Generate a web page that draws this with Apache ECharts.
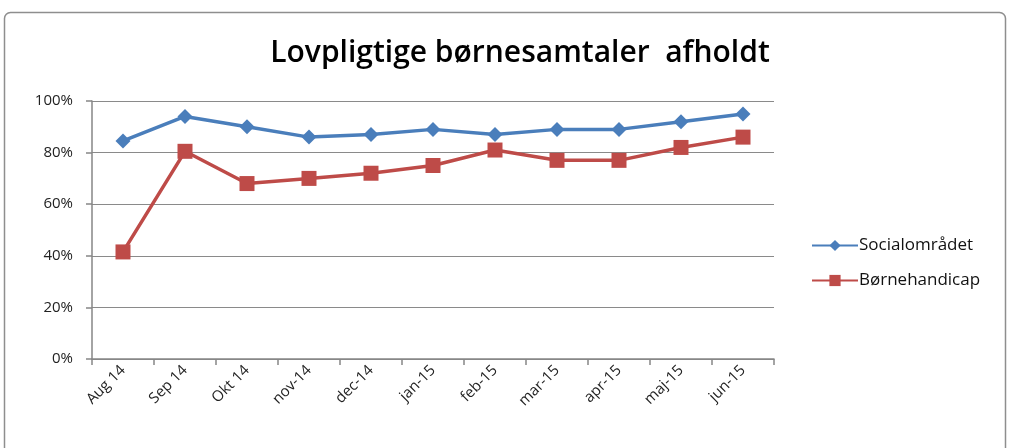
<!DOCTYPE html>
<html>
<head>
<meta charset="utf-8">
<script src="https://cdn.jsdelivr.net/npm/echarts@6/dist/echarts.min.js"></script>
<style>
  html, body { margin: 0; padding: 0; background: #fff; }
  #main { width: 1010px; height: 448px; }
</style>
</head>
<body>
<div id="main"></div>
<script>
const months = ['Aug 14', 'Sep 14', 'Okt 14', 'nov-14', 'dec-14', 'jan-15', 'feb-15', 'mar-15', 'apr-15', 'maj-15', 'jun-15']
const socialomraadet = [84.5, 94, 90, 86, 87, 89, 87, 89, 89, 92, 95]
const boernehandicap = [41.5, 80.5, 68, 70, 72, 75, 81, 77, 77, 82, 86]
const yTicks = [0, 20, 40, 60, 80, 100]

const chart = echarts.init(document.getElementById('main'))
chart.setOption({
  animation: false,
  backgroundColor: '#fff',
  graphic: [
    {
      type: 'rect',
      shape: { x: 4.5, y: 12.5, width: 1001, height: 460, r: 6 },
      style: { fill: 'none', stroke: '#8e8e8e', lineWidth: 1.5 }
    }
  ],
  title: {
    text: 'Lovpligtige børnesamtaler  afholdt',
    left: 515,
    textAlign: 'center',
    top: 33,
    textStyle: {
      fontFamily: 'Open Sans',
      fontWeight: 600,
      fontSize: 30,
      color: '#000'
    }
  },
  legend: {
    orient: 'vertical',
    left: 806,
    top: 232,
    itemGap: 18,
    itemWidth: 46,
    itemHeight: 14,
    textStyle: { fontFamily: 'Open Sans', fontSize: 17, color: '#111', padding: [0, 0, 0, -4] },
    data: ['Socialområdet', 'Børnehandicap']
  },
  grid: { left: 92, right: 236, top: 101, bottom: 89 },
  xAxis: {
    type: 'category',
    data: months,
    boundaryGap: true,
    axisLine: { lineStyle: { color: '#868686', width: 1.5 } },
    axisTick: { show: true, length: 6, lineStyle: { color: '#868686', width: 1.5 } },
    axisLabel: {
      rotate: 45,
      fontFamily: 'Open Sans',
      fontSize: 15,
      color: '#222',
      margin: 9
    }
  },
  yAxis: {
    type: 'value',
    min: 0,
    max: 100,
    interval: 20,
    axisLine: { show: true, lineStyle: { color: '#868686', width: 1.5 } },
    axisTick: { show: true, length: 6, lineStyle: { color: '#868686', width: 1.5 } },
    splitLine: { lineStyle: { color: '#8a8a8a', width: 1.2 } },
    axisLabel: {
      fontFamily: 'Open Sans',
      fontSize: 15,
      color: '#222',
      margin: 19,
      formatter: v => (yTicks.indexOf(v) >= 0 ? v + '%' : '')
    }
  },
  series: [
    {
      name: 'Socialområdet',
      type: 'line',
      data: socialomraadet,
      color: '#4A7EBB',
      symbol: 'diamond',
      symbolSize: 15,
      lineStyle: { width: 3.5 }
    },
    {
      name: 'Børnehandicap',
      type: 'line',
      data: boernehandicap,
      color: '#BE4B48',
      symbol: 'rect',
      symbolSize: 15,
      lineStyle: { width: 3.5 }
    }
  ]
})
</script>
</body>
</html>
